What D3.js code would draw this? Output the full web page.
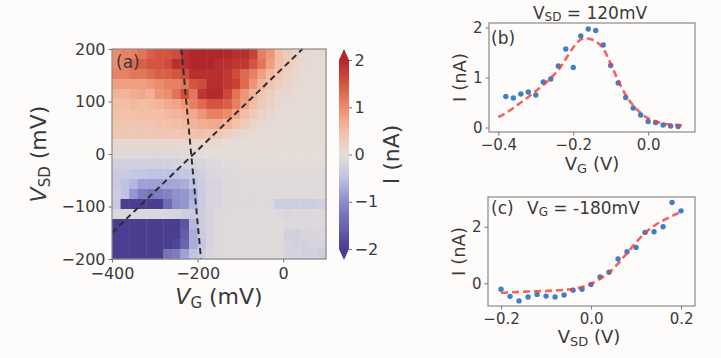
<!DOCTYPE html>
<meta charset="utf-8">
<style>
    body {
        margin: 0;
        background: #fdfcfb;
    }

    svg {
        display: block;
        background: #fdfcfb;
        font-family: "DejaVu Sans", sans-serif;
    }

    text {
        fill: #3a3a3a;
    }

    .tick line {
        stroke: #777;
    }
</style>
<svg width="721" height="358"></svg>
<script src="https://d3js.org/d3.v7.min.js"></script>
<script>
    // map (a): gate voltage columns (mV), bias rows (mV), current (nA)
    var vgCells = [-390, -370, -350, -330, -310, -290, -270, -250, -230, -210, -190, -170, -150,
        -130, -110, -90, -70, -50, -30, -10, 10, 30, 50, 70, 90];
    var vsdRows = [200, 180, 160, 140, 120, 100, 80, 60, 40, 20, 0, -20, -40, -60, -80, -100,
        -120, -140, -160, -180, -200];
    var current = [
        [1.0, 1.1, 1.1, 1.2, 1.4, 1.5, 1.5, 1.6, 1.9, 2.0, 2.0, 2.0, 2.0, 2.0, 1.9, 1.9, 1.7, 1.1, 0.9, 0.5, 0.3, 0.15, 0.1, 0.05, 0.05],
        [1.0, 1.1, 1.3, 1.4, 1.5, 1.5, 1.6, 1.9, 1.9, 2.0, 2.0, 2.0, 1.9, 1.9, 1.8, 1.8, 1.5, 1.2, 0.8, 0.5, 0.3, 0.15, 0.08, 0.05, 0.05],
        [1.1, 1.1, 1.2, 1.2, 1.3, 1.4, 1.4, 1.5, 1.6, 1.9, 1.9, 1.9, 1.9, 1.8, 1.6, 1.3, 1.1, 0.8, 0.55, 0.35, 0.2, 0.1, 0.05, 0.05, 0.03],
        [0.8, 0.8, 0.8, 0.8, 0.9, 1.0, 1.1, 1.1, 1.2, 1.5, 1.6, 1.9, 1.9, 1.8, 1.7, 1.3, 0.9, 0.6, 0.4, 0.25, 0.15, 0.08, 0.05, 0.03, 0.03],
        [0.62, 0.59, 0.67, 0.71, 0.65, 0.91, 0.97, 1.23, 1.57, 1.2, 1.83, 1.97, 1.94, 1.65, 1.24, 0.89, 0.6, 0.39, 0.25, 0.12, 0.1, 0.05, 0.03, 0.02, 0.02],
        [0.5, 0.5, 0.55, 0.5, 0.55, 0.6, 0.7, 0.75, 0.9, 1.1, 1.3, 1.5, 1.5, 1.4, 1.1, 0.8, 0.5, 0.3, 0.2, 0.1, 0.05, 0.03, 0.03, 0.02, 0.02],
        [0.45, 0.45, 0.45, 0.5, 0.5, 0.5, 0.55, 0.6, 0.65, 0.7, 0.9, 1.1, 1.1, 1.0, 0.75, 0.5, 0.3, 0.18, 0.1, 0.05, 0.03, 0.02, 0.02, 0.02, 0.02],
        [0.4, 0.4, 0.4, 0.4, 0.4, 0.45, 0.45, 0.5, 0.55, 0.6, 0.65, 0.7, 0.7, 0.6, 0.45, 0.3, 0.15, 0.08, 0.05, 0.03, 0.02, 0.02, 0.02, 0.02, 0.02],
        [0.35, 0.35, 0.35, 0.35, 0.35, 0.35, 0.35, 0.35, 0.4, 0.4, 0.45, 0.4, 0.35, 0.25, 0.15, 0.08, 0.05, 0.03, 0.02, 0.02, 0.02, 0.02, 0.02, 0.02, 0.02],
        [0.1, 0.1, 0.1, 0.1, 0.1, 0.1, 0.1, 0.12, 0.12, 0.12, 0.1, 0.08, 0.05, 0.03, 0.02, 0.02, 0.02, 0.02, 0.02, 0.02, 0.02, 0.02, 0.02, 0.02, 0.02],
        [-0.1, -0.1, -0.1, -0.1, -0.1, -0.1, -0.1, -0.1, -0.05, -0.05, -0.02, 0, 0, 0, 0, 0, 0, 0, 0, 0, 0, 0, 0, 0, 0],
        [-0.25, -0.25, -0.25, -0.25, -0.25, -0.25, -0.25, -0.2, -0.2, -0.2, -0.15, -0.1, -0.08, -0.05, -0.05, -0.03, -0.03, -0.02, -0.02, -0.02, -0.02, -0.02, -0.02, -0.02, -0.02],
        [-0.35, -0.35, -0.4, -0.45, -0.5, -0.5, -0.5, -0.5, -0.45, -0.35, -0.25, -0.15, -0.1, -0.1, -0.08, -0.05, -0.05, -0.05, -0.05, -0.05, -0.05, -0.05, -0.05, -0.05, -0.05],
        [-0.35, -0.5, -0.6, -0.8, -0.8, -0.8, -0.75, -0.75, -0.7, -0.5, -0.3, -0.2, -0.15, -0.1, -0.1, -0.08, -0.05, -0.05, -0.05, -0.05, -0.05, -0.05, -0.05, -0.05, -0.05],
        [-0.3, -0.5, -0.9, -1.2, -1.3, -1.2, -1.1, -0.95, -0.9, -0.7, -0.35, -0.2, -0.15, -0.1, -0.1, -0.08, -0.08, -0.05, -0.05, -0.05, -0.05, -0.05, -0.05, -0.05, -0.05],
        [-0.4, -2.1, -2.1, -2.1, -2.1, -2.0, -1.4, -1.0, -0.9, -0.6, -0.35, -0.2, -0.15, -0.1, -0.1, -0.1, -0.08, -0.08, -0.1, -0.3, -0.3, -0.3, -0.3, -0.3, -0.25],
        [-0.12, -0.12, -0.12, -0.12, -0.12, -0.12, -0.15, -0.2, -0.3, -0.35, -0.3, -0.2, -0.1, -0.08, -0.05, -0.05, -0.05, -0.05, -0.05, -0.1, -0.15, -0.1, -0.1, -0.1, -0.1],
        [-2.1, -2.1, -2.1, -2.1, -2.1, -2.1, -2.1, -2.0, -1.7, -0.6, -0.3, -0.2, -0.1, -0.08, -0.05, -0.05, -0.05, -0.05, -0.05, -0.05, -0.1, -0.1, -0.1, -0.1, -0.1],
        [-2.1, -2.1, -2.1, -2.1, -2.1, -2.1, -2.1, -2.0, -1.6, -0.7, -0.35, -0.2, -0.1, -0.08, -0.05, -0.05, -0.05, -0.05, -0.05, -0.05, -0.25, -0.25, -0.15, -0.15, -0.15],
        [-2.1, -2.1, -2.1, -2.1, -2.1, -2.1, -2.1, -1.9, -1.5, -0.7, -0.45, -0.2, -0.1, -0.08, -0.05, -0.05, -0.05, -0.05, -0.05, -0.05, -0.2, -0.25, -0.25, -0.2, -0.2],
        [-2.1, -2.1, -2.1, -2.1, -2.1, -2.0, -1.3, -1.2, -0.8, -0.5, -0.3, -0.15, -0.1, -0.08, -0.05, -0.05, -0.05, -0.05, -0.05, -0.05, -0.2, -0.2, -0.25, -0.25, -0.3]
    ];
    // dashed guide lines in (a), [VG, VSD] in mV
    var gateLine = [[-238, 200], [-192, -200]];
    var biasLine = [[-400, -150], [45, 200]];

    var mapXTicks = [-400, -200, 0];
    var mapYTicks = [-200, -100, 0, 100, 200];
    var cbTicks = [-2, -1, 0, 1, 2];

    // (b) cut at VSD = 120 mV
    var vgB = [-0.38, -0.36, -0.34, -0.32, -0.30, -0.28, -0.26, -0.24, -0.22, -0.20, -0.18, -0.16,
        -0.14, -0.12, -0.10, -0.08, -0.06, -0.04, -0.02, 0.00, 0.02, 0.04, 0.06, 0.08];
    var iB = [0.62, 0.59, 0.67, 0.71, 0.65, 0.91, 0.97, 1.23, 1.57, 1.20, 1.83, 1.97,
        1.94, 1.65, 1.24, 0.89, 0.60, 0.39, 0.25, 0.12, 0.10, 0.05, 0.03, 0.02];
    var vgFitB = [-0.40, -0.38, -0.36, -0.34, -0.32, -0.30, -0.28, -0.26, -0.24, -0.22, -0.20, -0.18,
        -0.17, -0.16, -0.14, -0.12, -0.10, -0.08, -0.06, -0.04, -0.02, 0.00, 0.02, 0.04, 0.06, 0.08, 0.10];
    var iFitB = [0.21, 0.29, 0.39, 0.50, 0.61, 0.73, 0.85, 0.99, 1.15, 1.37, 1.60, 1.76,
        1.79, 1.78, 1.72, 1.58, 1.27, 0.94, 0.65, 0.44, 0.29, 0.18, 0.12, 0.08, 0.06, 0.05, 0.04];
    var bXTicks = [-0.4, -0.2, 0.0];
    var bYTicks = [0, 1, 2];

    // (c) cut at VG = -180 mV
    var vsdC = [-0.20, -0.18, -0.16, -0.14, -0.12, -0.10, -0.08, -0.06, -0.04, -0.02, 0.00,
        0.02, 0.04, 0.06, 0.08, 0.10, 0.12, 0.14, 0.16, 0.18, 0.20];
    var iC = [-0.21, -0.46, -0.62, -0.48, -0.39, -0.45, -0.48, -0.41, -0.24, -0.21, -0.04,
        0.23, 0.39, 0.86, 1.12, 1.27, 1.80, 1.82, 2.00, 2.86, 2.56];
    var vsdFitC = [-0.20, -0.18, -0.16, -0.14, -0.12, -0.10, -0.08, -0.06, -0.04, -0.02, 0.00,
        0.02, 0.04, 0.06, 0.08, 0.10, 0.12, 0.14, 0.16, 0.18, 0.20];
    var iFitC = [-0.34, -0.32, -0.30, -0.29, -0.28, -0.27, -0.25, -0.23, -0.20, -0.13, -0.01,
        0.16, 0.38, 0.70, 1.07, 1.45, 1.78, 2.03, 2.22, 2.38, 2.52];
    var cXTicks = [-0.2, 0.0, 0.2];
    var cYTicks = [0, 2];

    var svg = d3.select("svg");
    var intFmt = d3.format("d"),
        decFmt = d3.format(".1f");

    var color = d3.scaleLinear()
        .domain([-2, -1, -0.5, 0, 0.5, 1, 1.5, 2])
        .range(["#4a3e91", "#8a8bca", "#bfc3e5", "#e5ddd9", "#f4bea5", "#ec8c6c", "#d4553f", "#b1262b"])
        .clamp(true);

    function styleAxis(g, size) {
        g.select(".domain").remove();
        g.selectAll(".tick text")
            .attr("font-size", size)
            .attr("font-family", "DejaVu Sans, sans-serif")
            .style("fill", "#3a3a3a");
        g.selectAll(".tick line").attr("stroke", "#777").attr("stroke-width", 1);
    }

    function frame(x0, y0, x1, y1) {
        svg.append("rect")
            .attr("x", x0)
            .attr("y", y0)
            .attr("width", x1 - x0)
            .attr("height", y1 - y0)
            .style("fill", "none")
            .style("stroke", "#8a8a8a")
            .style("stroke-width", 1.2);
    }

    // ---------- (a) map ----------
    var ax = { left: 112, right: 326, top: 49, bottom: 259 };

    var xCell = d3.scaleBand().domain(vgCells).range([ax.left, ax.right]);
    var yCell = d3.scaleBand().domain(vsdRows).range([ax.top, ax.bottom]);
    var xMap = d3.scaleLinear().domain([-400, 100]).range([ax.left, ax.right]);
    var yMap = d3.scaleLinear().domain([-200, 200]).range([ax.bottom, ax.top]);

    var cells = [];
    vsdRows.forEach(function(v, r) {
        vgCells.forEach(function(g, c) {
            cells.push({ vg: g, vsd: v, i: current[r][c] });
        });
    });

    svg.append("g")
        .selectAll("rect")
        .data(cells)
        .enter().append("rect")
        .attr("x", function(d) { return xCell(d.vg); })
        .attr("y", function(d) { return yCell(d.vsd); })
        .attr("width", xCell.bandwidth() + 0.4)
        .attr("height", yCell.bandwidth() + 0.4)
        .style("fill", function(d) { return color(d.i); });

    var guide = d3.line()
        .x(function(d) { return xMap(d[0]); })
        .y(function(d) { return yMap(d[1]); });

    [gateLine, biasLine].forEach(function(l) {
        svg.append("path")
            .attr("d", guide(l))
            .style("fill", "none")
            .style("stroke", "#2e2e2e")
            .style("stroke-width", 2)
            .style("stroke-dasharray", "6,4");
    });

    frame(ax.left, ax.top, ax.right, ax.bottom);

    svg.append("g")
        .attr("transform", "translate(0," + ax.bottom + ")")
        .call(d3.axisBottom(xMap).tickValues(mapXTicks).tickFormat(intFmt).tickSize(3.5).tickPadding(5))
        .call(styleAxis, 16);

    svg.append("g")
        .attr("transform", "translate(" + ax.left + ",0)")
        .call(d3.axisLeft(yMap).tickValues(mapYTicks).tickFormat(intFmt).tickSize(3.5).tickPadding(3))
        .call(styleAxis, 16);

    svg.append("text")
        .attr("x", 116)
        .attr("y", 68)
        .attr("font-size", 17)
        .text("(a)");

    var xa = svg.append("text")
        .attr("x", (ax.left + ax.right) / 2)
        .attr("y", 304)
        .attr("text-anchor", "middle")
        .attr("font-size", 22);
    xa.append("tspan").attr("font-style", "italic").text("V");
    xa.append("tspan").attr("font-size", 15).attr("dy", 4).text("G");
    xa.append("tspan").attr("dy", -4).text(" (mV)");

    var ya = svg.append("text")
        .attr("transform", "translate(46," + (ax.top + ax.bottom) / 2 + ") rotate(-90)")
        .attr("text-anchor", "middle")
        .attr("font-size", 22);
    ya.append("tspan").attr("font-style", "italic").text("V");
    ya.append("tspan").attr("font-size", 15).attr("dy", 4).text("SD");
    ya.append("tspan").attr("dy", -4).text(" (mV)");

    // ---------- colorbar ----------
    var cb = { left: 339, right: 349 };
    var yCb = d3.scaleLinear().domain([-2, 2]).range([249, 60]);

    var grad = svg.append("defs").append("linearGradient")
        .attr("id", "cbgrad")
        .attr("x1", 0).attr("y1", 1)
        .attr("x2", 0).attr("y2", 0);
    d3.range(0, 1.0001, 0.05).forEach(function(t) {
        grad.append("stop")
            .attr("offset", t)
            .attr("stop-color", color(-2 + 4 * t));
    });

    svg.append("rect")
        .attr("x", cb.left)
        .attr("y", yCb(2))
        .attr("width", cb.right - cb.left)
        .attr("height", yCb(-2) - yCb(2))
        .style("fill", "url(#cbgrad)");

    var ext = 11;
    svg.append("path")
        .attr("d", "M" + cb.left + "," + yCb(2) + "L" + (cb.left + cb.right) / 2 + "," + (yCb(2) - ext) + "L" + cb.right + "," + yCb(2) + "Z")
        .style("fill", color(2));
    svg.append("path")
        .attr("d", "M" + cb.left + "," + yCb(-2) + "L" + (cb.left + cb.right) / 2 + "," + (yCb(-2) + ext) + "L" + cb.right + "," + yCb(-2) + "Z")
        .style("fill", color(-2));

    svg.append("g")
        .attr("transform", "translate(" + cb.right + ",0)")
        .call(d3.axisRight(yCb).tickValues(cbTicks).tickFormat(intFmt).tickSize(3).tickPadding(2.5))
        .call(styleAxis, 16);

    svg.append("text")
        .attr("transform", "translate(399," + yCb(0) + ") rotate(-90)")
        .attr("text-anchor", "middle")
        .attr("font-size", 22)
        .text("I (nA)");

    // ---------- (b) ----------
    var bx = { left: 489, right: 695, top: 23, bottom: 132 };
    var xB = d3.scaleLinear().domain([-0.425, 0.125]).range([bx.left, bx.right]);
    var yB = d3.scaleLinear().domain([-0.09, 2.09]).range([bx.bottom, bx.top]);

    frame(bx.left, bx.top, bx.right, bx.bottom);

    svg.append("g")
        .attr("transform", "translate(0," + bx.bottom + ")")
        .call(d3.axisBottom(xB).tickValues(bXTicks).tickFormat(decFmt).tickSize(3.5).tickPadding(4))
        .call(styleAxis, 15);
    svg.append("g")
        .attr("transform", "translate(" + bx.left + ",0)")
        .call(d3.axisLeft(yB).tickValues(bYTicks).tickFormat(intFmt).tickSize(3.5).tickPadding(3))
        .call(styleAxis, 15);

    svg.append("g")
        .selectAll("circle")
        .data(vgB)
        .enter().append("circle")
        .attr("cx", function(d) { return xB(d); })
        .attr("cy", function(d, i) { return yB(iB[i]); })
        .attr("r", 2.7)
        .style("fill", "#3f7fc4");

    svg.append("path")
        .datum(vgFitB)
        .attr("d", d3.line()
            .curve(d3.curveMonotoneX)
            .x(function(d) { return xB(d); })
            .y(function(d, i) { return yB(iFitB[i]); }))
        .style("fill", "none")
        .style("stroke", "#f03c3c")
        .style("stroke-opacity", 0.8)
        .style("stroke-width", 2.6)
        .style("stroke-dasharray", "7,4");

    svg.append("text")
        .attr("x", 491)
        .attr("y", 44)
        .attr("font-size", 17)
        .text("(b)");

    var tb = svg.append("text")
        .attr("x", 590)
        .attr("y", 19)
        .attr("text-anchor", "middle")
        .attr("font-size", 17);
    tb.append("tspan").text("V");
    tb.append("tspan").attr("font-size", 12).attr("dy", 1.5).text("SD");
    tb.append("tspan").attr("dy", -1.5).text(" = 120mV");

    var xlb = svg.append("text")
        .attr("x", (bx.left + bx.right) / 2)
        .attr("y", 170)
        .attr("text-anchor", "middle")
        .attr("font-size", 18);
    xlb.append("tspan").text("V");
    xlb.append("tspan").attr("font-size", 13).attr("dy", 3).text("G");
    xlb.append("tspan").attr("dy", -3).text(" (V)");

    svg.append("text")
        .attr("transform", "translate(466," + (bx.top + bx.bottom) / 2 + ") rotate(-90)")
        .attr("text-anchor", "middle")
        .attr("font-size", 18)
        .text("I (nA)");

    // ---------- (c) ----------
    var cx = { left: 488, right: 695, top: 197, bottom: 306 };
    var xC = d3.scaleLinear().domain([-0.229, 0.231]).range([cx.left, cx.right]);
    var yC = d3.scaleLinear().domain([-0.8, 3.05]).range([cx.bottom, cx.top]);

    frame(cx.left, cx.top, cx.right, cx.bottom);

    svg.append("g")
        .attr("transform", "translate(0," + cx.bottom + ")")
        .call(d3.axisBottom(xC).tickValues(cXTicks).tickFormat(decFmt).tickSize(3.5).tickPadding(4))
        .call(styleAxis, 15);
    svg.append("g")
        .attr("transform", "translate(" + cx.left + ",0)")
        .call(d3.axisLeft(yC).tickValues(cYTicks).tickFormat(intFmt).tickSize(3.5).tickPadding(3))
        .call(styleAxis, 15);

    svg.append("g")
        .selectAll("circle")
        .data(vsdC)
        .enter().append("circle")
        .attr("cx", function(d) { return xC(d); })
        .attr("cy", function(d, i) { return yC(iC[i]); })
        .attr("r", 2.7)
        .style("fill", "#3f7fc4");

    svg.append("path")
        .datum(vsdFitC)
        .attr("d", d3.line()
            .curve(d3.curveMonotoneX)
            .x(function(d) { return xC(d); })
            .y(function(d, i) { return yC(iFitC[i]); }))
        .style("fill", "none")
        .style("stroke", "#f03c3c")
        .style("stroke-opacity", 0.8)
        .style("stroke-width", 2.6)
        .style("stroke-dasharray", "7,4");

    svg.append("text")
        .attr("x", 491)
        .attr("y", 214)
        .attr("font-size", 17)
        .text("(c)");

    var tc = svg.append("text")
        .attr("x", 527)
        .attr("y", 214)
        .attr("font-size", 17);
    tc.append("tspan").text("V");
    tc.append("tspan").attr("font-size", 12).attr("dy", 1.5).text("G");
    tc.append("tspan").attr("dy", -1.5).text(" = -180mV");

    var xlc = svg.append("text")
        .attr("x", 589)
        .attr("y", 343)
        .attr("text-anchor", "middle")
        .attr("font-size", 18);
    xlc.append("tspan").text("V");
    xlc.append("tspan").attr("font-size", 13).attr("dy", 3).text("SD");
    xlc.append("tspan").attr("dy", -3).text(" (V)");

    svg.append("text")
        .attr("transform", "translate(465," + (cx.top + cx.bottom) / 2 + ") rotate(-90)")
        .attr("text-anchor", "middle")
        .attr("font-size", 18)
        .text("I (nA)");
</script>
